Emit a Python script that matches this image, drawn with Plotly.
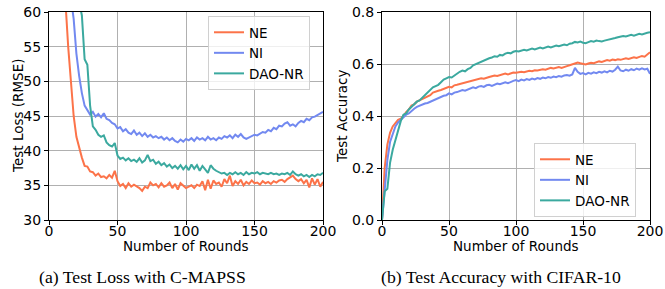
import plotly.graph_objects as go

rounds = list(range(0, 201, 2))

ne_loss = [
    120, 110, 100, 90, 80, 70, 61.5, 55, 50, 45,
    42, 40.3, 39, 37.8, 37.7, 37.0, 36.9, 36.4, 36.7, 36.2,
    36.3, 36.0, 36.5, 36.1, 37.1, 35.6, 34.9, 35.2, 34.6, 35.3,
    34.8, 35.1, 34.9, 34.6, 34.2, 34.8, 34.6, 35.4, 35.0, 35.2,
    34.7, 35.3, 34.8, 35.0, 35.4, 34.6, 35.2, 34.4, 35.3, 34.9,
    34.6, 34.8, 35.0, 34.6, 35.1, 34.9, 35.6, 34.3, 35.8, 34.5,
    35.7, 35.2, 35.4, 34.8, 35.9, 35.3, 36.4, 34.9, 35.6, 35.2,
    35.8, 35.0, 35.5, 35.2, 35.7, 35.3, 35.4, 35.1, 35.6, 35.3,
    35.5, 35.2, 35.6, 35.4, 35.7, 35.8, 35.5, 35.9, 36.2, 36.4,
    35.9, 35.6, 35.9, 35.3, 35.8, 34.7, 36.0, 35.1, 35.9, 34.8,
    35.5,
]
ni_loss = [
    120, 110, 100, 90, 80, 72, 66, 62, 62, 59,
    54, 50.8, 48.3, 46.5, 45.8, 45.2, 45.6, 44.9, 45.3, 44.8,
    45.4, 44.6, 44.4, 44.0, 43.8, 43.2, 43.4, 42.8, 43.1, 42.6,
    42.4, 42.9, 42.3, 42.6, 42.1, 42.5, 42.0, 42.3, 41.9, 42.1,
    41.8, 42.0, 41.6, 41.9, 41.5, 41.8, 41.4, 41.2, 41.6, 41.3,
    41.7, 41.5, 41.8, 41.4, 41.9, 41.6, 41.8, 41.5, 42.0, 41.6,
    41.8, 41.5, 41.9, 41.7, 42.1, 41.9, 42.2, 41.8, 42.3, 42.0,
    42.4, 41.9, 41.7, 41.9, 42.1, 42.3, 42.2, 42.5, 42.7, 42.6,
    43.0, 42.8, 43.3, 43.1, 43.6, 43.5, 43.9, 44.1, 43.6, 43.8,
    43.5, 44.0, 44.3, 44.1, 44.6, 44.4, 44.8, 44.9, 45.1, 45.3,
    45.6,
]
dao_loss = [
    120, 115, 110, 100, 92, 85, 80, 75, 70, 66,
    63.5, 61.5, 59.5, 53.2, 52.4, 46.5, 43.5, 43.0, 42.3, 42.0,
    42.2, 41.2, 40.8, 40.6, 41.1, 39.3, 38.8, 39.0, 38.6, 38.9,
    38.5, 38.7, 38.4, 38.9, 38.3, 38.6, 39.4, 38.5, 38.7, 38.1,
    38.4, 37.9, 38.2, 37.7, 38.0, 37.5, 37.8, 37.4, 37.9, 37.3,
    37.8, 37.2, 38.0, 37.4, 37.9, 37.1, 37.8, 37.3, 36.8, 37.9,
    37.4, 37.1, 36.9, 36.7, 36.8, 36.5, 36.8, 36.6, 36.9, 36.6,
    36.8, 36.5, 36.9, 36.6, 36.8, 36.7, 36.9, 36.6, 36.8, 36.7,
    36.6, 36.8, 36.6, 36.7, 36.5, 36.7, 36.6, 36.8, 36.5, 37.0,
    36.6, 36.4, 36.6, 36.3, 36.5, 36.2, 36.5, 36.3, 36.6, 36.5,
    36.8,
]

ne_acc = [
    0.0, 0.2, 0.29, 0.335, 0.36, 0.375, 0.385, 0.39, 0.40, 0.415,
    0.425, 0.44, 0.445, 0.455, 0.46, 0.465, 0.47, 0.475, 0.48, 0.49,
    0.495, 0.497, 0.50, 0.505, 0.508, 0.512, 0.51, 0.518, 0.52, 0.523,
    0.526, 0.53, 0.532, 0.535, 0.538, 0.54, 0.542, 0.545, 0.543, 0.548,
    0.55, 0.553, 0.556, 0.554, 0.558, 0.56, 0.563, 0.56, 0.565, 0.567,
    0.566, 0.569, 0.57, 0.568, 0.572, 0.574, 0.572, 0.576, 0.575, 0.579,
    0.58, 0.578, 0.582, 0.585, 0.583, 0.586, 0.588, 0.585, 0.59, 0.592,
    0.595, 0.598, 0.602, 0.606, 0.603, 0.60, 0.598, 0.602, 0.605, 0.603,
    0.607, 0.61, 0.608, 0.612, 0.615, 0.613, 0.617, 0.615, 0.618, 0.616,
    0.62, 0.622, 0.619, 0.624, 0.626, 0.623, 0.628, 0.631, 0.628, 0.636,
    0.645,
]
ni_acc = [
    0.0, 0.12, 0.23, 0.30, 0.33, 0.36, 0.375, 0.385, 0.395, 0.405,
    0.41, 0.42, 0.428, 0.435, 0.44, 0.445, 0.448, 0.45, 0.455, 0.46,
    0.465, 0.47, 0.472, 0.478, 0.48, 0.487, 0.483, 0.49, 0.492, 0.495,
    0.50, 0.497, 0.502, 0.505, 0.51, 0.507, 0.513, 0.515, 0.512, 0.518,
    0.52, 0.516, 0.522, 0.525, 0.522, 0.527, 0.53, 0.526, 0.532, 0.535,
    0.538, 0.534, 0.54, 0.537, 0.542, 0.539, 0.544, 0.541, 0.546, 0.543,
    0.548, 0.545, 0.55, 0.547, 0.552, 0.549, 0.554, 0.551, 0.556, 0.558,
    0.555, 0.56, 0.585, 0.57, 0.562, 0.565, 0.56, 0.566, 0.563, 0.568,
    0.565, 0.57, 0.567, 0.572, 0.568, 0.574, 0.571, 0.578, 0.59, 0.575,
    0.572, 0.578, 0.574, 0.58, 0.576, 0.582, 0.578, 0.583, 0.579, 0.582,
    0.562,
]
dao_acc = [
    0.0, 0.11, 0.12, 0.22, 0.27, 0.31, 0.35, 0.38, 0.405, 0.41,
    0.425, 0.435, 0.445, 0.455, 0.46, 0.47, 0.48, 0.49, 0.50, 0.51,
    0.515, 0.52, 0.53, 0.54, 0.545, 0.55, 0.548, 0.555, 0.565, 0.57,
    0.575, 0.572, 0.58, 0.585, 0.595, 0.60, 0.605, 0.608, 0.615, 0.617,
    0.622, 0.625, 0.63, 0.628, 0.635, 0.633, 0.64, 0.643, 0.641, 0.647,
    0.65, 0.648, 0.652, 0.655, 0.652, 0.657, 0.659, 0.656, 0.661, 0.663,
    0.66, 0.665, 0.667, 0.664, 0.669, 0.671, 0.668, 0.673, 0.675, 0.672,
    0.678, 0.68, 0.685, 0.683, 0.686, 0.682, 0.68, 0.684, 0.688, 0.686,
    0.69, 0.688, 0.687, 0.69, 0.692, 0.695, 0.698, 0.70, 0.703, 0.705,
    0.708, 0.706, 0.71, 0.712, 0.709, 0.713, 0.716, 0.714, 0.718, 0.72,
    0.722,
]

names = ["NE", "NI", "DAO-NR"]
colors = ["#FC7349", "#7289F0", "#3BA99F"]

fig = go.Figure()
for name, color, ys in zip(names, colors, [ne_loss, ni_loss, dao_loss]):
    fig.add_trace(go.Scatter(x=rounds, y=ys, mode="lines", name=name,
                             line=dict(color=color, width=2),
                             xaxis="x", yaxis="y", legend="legend"))
for name, color, ys in zip(names, colors, [ne_acc, ni_acc, dao_acc]):
    fig.add_trace(go.Scatter(x=rounds, y=ys, mode="lines", name=name,
                             line=dict(color=color, width=2),
                             xaxis="x2", yaxis="y2", legend="legend2"))

W, H = 665, 289
tickfont = dict(family="DejaVu Sans", size=14, color="black")
titlefont = dict(family="DejaVu Sans", size=13.5, color="black")
capfont = dict(family="Liberation Serif", size=17.7, color="black")
axis_common = dict(showline=True, linecolor="black", linewidth=1, mirror=True,
                   ticks="outside", ticklen=4, tickcolor="black",
                   showgrid=True, gridcolor="#b0b0b0", gridwidth=1,
                   zeroline=False, tickfont=tickfont, automargin=False)


def pa(text, x, y, font, angle=0):
    return dict(text=text, x=x / W, y=1 - y / H, xref="paper", yref="paper",
                showarrow=False, xanchor="center", yanchor="middle",
                textangle=angle, font=font)


ydom = [1 - 220 / H, 1 - 12 / H]
fig.update_layout(
    width=W, height=H, margin=dict(l=0, r=0, t=0, b=0),
    paper_bgcolor="white", plot_bgcolor="white", font=titlefont,
    xaxis=dict(domain=[49 / W, 323 / W], range=[0, 200], tickvals=[0, 50, 100, 150, 200],
               anchor="y", ticklabelstandoff=-6, **axis_common),
    yaxis=dict(domain=ydom, range=[30, 60], tickvals=[30, 35, 40, 45, 50, 55, 60],
               anchor="x", **axis_common),
    xaxis2=dict(domain=[382 / W, 650 / W], range=[0, 200], tickvals=[0, 50, 100, 150, 200],
                anchor="y2", ticklabelstandoff=-6, **axis_common),
    yaxis2=dict(domain=ydom, range=[0, 0.8], tickvals=[0, 0.2, 0.4, 0.6, 0.8],
                ticktext=["0.0", "0.2", "0.4", "0.6", "0.8"],
                anchor="x2", **axis_common),
    legend=dict(x=208 / W, y=1 - 16 / H, xanchor="left", yanchor="top",
                bgcolor="rgba(255,255,255,0.8)", bordercolor="#d0d0d0", borderwidth=1,
                font=titlefont, tracegroupgap=0, itemwidth=30),
    legend2=dict(x=534 / W, y=1 - 143 / H, xanchor="left", yanchor="top",
                 bgcolor="rgba(255,255,255,0.8)", bordercolor="#d0d0d0", borderwidth=1,
                 font=titlefont, tracegroupgap=0, itemwidth=30),
    annotations=[
        pa("Number of Rounds", 186, 246, titlefont),
        pa("Number of Rounds", 516, 246, titlefont),
        pa("Test Loss (RMSE)", 18, 116, titlefont, -90),
        pa("Test Accuracy", 342, 116, titlefont, -90),
        pa("(a) Test Loss with C-MAPSS", 142, 277, capfont),
        pa("(b) Test Accuracy with CIFAR-10", 501, 277, capfont),
    ],
)

fig.write_html(
    "out.html",
    config={"displayModeBar": False},
    post_script="document.body.style.margin='0';document.body.style.padding='0';"
                "document.body.style.overflow='hidden';",
)
